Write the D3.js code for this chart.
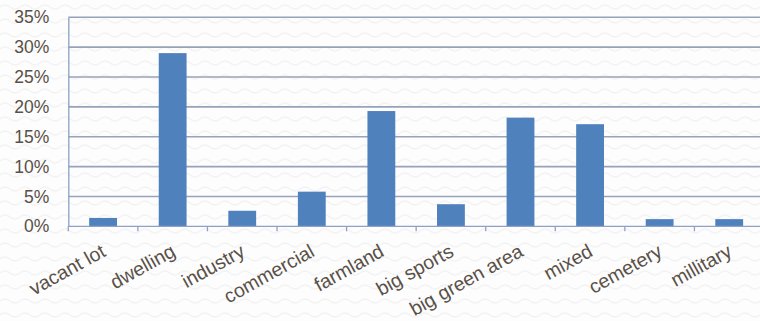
<!DOCTYPE html>
<html>
<head>
<meta charset="utf-8">
<script src="https://cdn.jsdelivr.net/npm/d3@7"></script>
<style>
  body { margin: 0; background: #fff; }
  svg { display: block; }
</style>
</head>
<body>
<svg id="chart"></svg>
<script>
const categories = ['vacant lot', 'dwelling', 'industry', 'commercial', 'farmland',
    'big sports', 'big green area', 'mixed', 'cemetery', 'millitary'];
const shares = [1.4, 29.0, 2.6, 5.8, 19.3, 3.7, 18.2, 17.1, 1.2, 1.2];
const yticks = [0, 5, 10, 15, 20, 25, 30, 35];

const width = 760, height = 321;
const margin = {top: 17.3, right: -4, bottom: 94.7, left: 68.3};
const innerW = width - margin.left - margin.right;
const innerH = height - margin.top - margin.bottom;

const svg = d3.select('#chart')
    .attr('width', width)
    .attr('height', height);

// faint wavy backdrop
const defs = svg.append('defs');
const pat = defs.append('pattern')
    .attr('id', 'waves')
    .attr('patternUnits', 'userSpaceOnUse')
    .attr('width', 20)
    .attr('height', 14);
pat.append('rect').attr('width', 20).attr('height', 14).attr('fill', '#fdfdfd');
pat.append('path')
    .attr('d', 'M0,7 Q5,3 10,7 T20,7')
    .attr('fill', 'none')
    .attr('stroke', '#f3f3f3')
    .attr('stroke-width', 1.5);
svg.append('rect')
    .attr('width', width)
    .attr('height', height)
    .attr('fill', 'url(#waves)');

const chart = svg.append('g')
    .attr('transform', `translate(${margin.left}, ${margin.top})`);

const xscale = d3.scaleBand()
    .domain(categories)
    .range([0, innerW])
    .paddingInner(0.6)
    .paddingOuter(0.3);

const yscale = d3.scaleLinear()
    .domain([0, 35])
    .range([innerH, 0]);

const textColor = '#595048';
const lineColor = '#97a3ba';

// gridlines
chart.append('g')
    .selectAll('line')
    .data(yticks.filter(d => d > 0))
    .join('line')
    .attr('x1', 0)
    .attr('x2', innerW)
    .attr('y1', d => yscale(d))
    .attr('y2', d => yscale(d))
    .attr('stroke', lineColor)
    .attr('stroke-width', 1.6);

// bars
chart.selectAll('.bar')
    .data(categories)
    .join('rect')
    .attr('class', 'bar')
    .attr('x', (d, i) => xscale(d))
    .attr('y', (d, i) => yscale(shares[i]))
    .attr('width', xscale.bandwidth())
    .attr('height', (d, i) => innerH - yscale(shares[i]))
    .attr('fill', '#4f81bd');

// y axis
const yaxis = d3.axisLeft(yscale)
    .tickValues(yticks)
    .tickFormat(d => d + '%')
    .tickSize(0)
    .tickPadding(19);
const yg = chart.append('g').call(yaxis);
yg.select('.domain').attr('stroke', '#8da1c6').attr('stroke-width', 1.3);
yg.selectAll('text')
    .attr('fill', textColor)
    .attr('font-family', 'Liberation Sans, Arial, sans-serif')
    .attr('font-size', '17.5px');

// x axis with ticks on the category boundaries
const step = xscale.step();
const xg = chart.append('g')
    .attr('transform', `translate(0, ${innerH})`);
xg.append('line')
    .attr('x1', 0).attr('x2', innerW)
    .attr('stroke', '#8da1c6').attr('stroke-width', 1.3);
xg.selectAll('.tick')
    .data(d3.range(categories.length + 1))
    .join('line')
    .attr('class', 'tick')
    .attr('x1', i => i * step).attr('x2', i => i * step)
    .attr('y1', 0).attr('y2', 5)
    .attr('stroke', '#8da1c6').attr('stroke-width', 1.3);
xg.selectAll('.lbl')
    .data(categories)
    .join('text')
    .attr('class', 'lbl')
    .attr('text-anchor', 'end')
    .attr('transform', d => `translate(${xscale(d) + xscale.bandwidth() / 2 + 4}, 29) rotate(-29)`)
    .attr('fill', textColor)
    .attr('font-family', 'Liberation Sans, Arial, sans-serif')
    .attr('font-size', '19.5px')
    .text(d => d);
</script>
</body>
</html>
